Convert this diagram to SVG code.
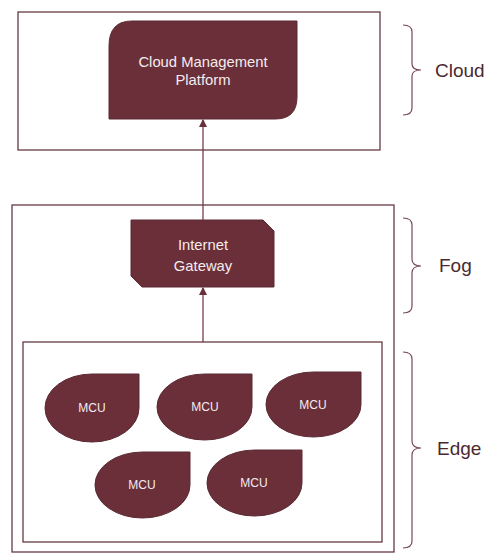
<svg xmlns="http://www.w3.org/2000/svg" width="488" height="558" viewBox="0 0 488 558">
<defs>
<style>
.box{fill:none;stroke:#5a2a33;stroke-width:1.2}
.node{fill:#6b2f3a;stroke:#5a2a33;stroke-width:1}
.nt{fill:#f4ecee;font-family:"Liberation Sans",Arial,sans-serif;font-size:14.8px;text-anchor:middle}
.mt{fill:#f4ecee;font-family:"Liberation Sans",Arial,sans-serif;font-size:12px;text-anchor:middle}
.conn{stroke:#6b2f3a;stroke-width:1.2;fill:none}
.brace{fill:none;stroke:#7a4a52;stroke-width:1.2}
.lbl{fill:#4a2a30;font-family:"Liberation Sans",Arial,sans-serif;font-size:19px}
</style>
<marker id="arr" markerWidth="8" markerHeight="8" refX="7" refY="4" orient="auto" markerUnits="userSpaceOnUse">
<path d="M0,0 L8,4 L0,8 Z" fill="#6b2f3a"/>
</marker>
</defs>
<rect width="488" height="558" fill="#ffffff"/>
<g id="regions">
<rect class="box" x="18" y="12" width="362" height="138"/>
<rect class="box" x="12" y="205" width="382" height="347"/>
<rect class="box" x="23" y="342" width="359" height="200"/>
</g>
<g id="cloud-platform">
<path class="node" d="M132,21 H297 V97 Q297,119 275,119 H109 V46 Q109,21 132,21 Z"/>
<text class="nt" x="203" y="67">Cloud Management</text>
<text class="nt" x="203" y="85">Platform</text>
</g>
<g id="internet-gateway">
<path class="node" d="M131,220 H263 L274,231 V287 H142 L131,276 Z"/>
<text class="nt" x="203" y="250">Internet</text>
<text class="nt" x="203" y="271">Gateway</text>
</g>
<g id="mcu1">
<path class="node" d="M139,374 V408 A47,34 0 0 1 92,442 A47,34 0 0 1 45,408 A47,34 0 0 1 92,374 Z"/>
<text class="mt" x="92" y="412">MCU</text>
</g>
<g id="mcu2">
<path class="node" d="M252,374 V407 A47.5,33 0 0 1 204.5,440 A47.5,33 0 0 1 157,407 A47.5,33 0 0 1 204.5,374 Z"/>
<text class="mt" x="205" y="411">MCU</text>
</g>
<g id="mcu3">
<path class="node" d="M361,372 V404.5 A47.5,32.5 0 0 1 313.5,437 A47.5,32.5 0 0 1 266,404.5 A47.5,32.5 0 0 1 313.5,372 Z"/>
<text class="mt" x="313" y="409">MCU</text>
</g>
<g id="mcu4">
<path class="node" d="M190,452 V485 A47.5,33 0 0 1 142.5,518 A47.5,33 0 0 1 95,485 A47.5,33 0 0 1 142.5,452 Z"/>
<text class="mt" x="142" y="489">MCU</text>
</g>
<g id="mcu5">
<path class="node" d="M302,450 V483 A47.5,33 0 0 1 254.5,516 A47.5,33 0 0 1 207,483 A47.5,33 0 0 1 254.5,450 Z"/>
<text class="mt" x="254" y="487">MCU</text>
</g>
<g id="connectors">
<line class="conn" x1="203" y1="220" x2="203" y2="120" marker-end="url(#arr)"/>
<line class="conn" x1="203" y1="342" x2="203" y2="288" marker-end="url(#arr)"/>
</g>
<g id="labels">
<path class="brace" d="M403,25 Q412,25 412,32 V64 Q412,70 421,70 Q412,70 412,76 V108 Q412,115 403,115"/>
<text class="lbl" x="435" y="77">Cloud</text>
<path class="brace" d="M403,218 Q412,218 412,225 V259 Q412,266 421,266 Q412,266 412,273 V306 Q412,313 403,313"/>
<text class="lbl" x="439" y="272">Fog</text>
<path class="brace" d="M403,352 Q412,352 412,359 V441 Q412,448 421,448 Q412,448 412,455 V541 Q412,548 403,548"/>
<text class="lbl" x="437" y="455">Edge</text>
</g>
</svg>
